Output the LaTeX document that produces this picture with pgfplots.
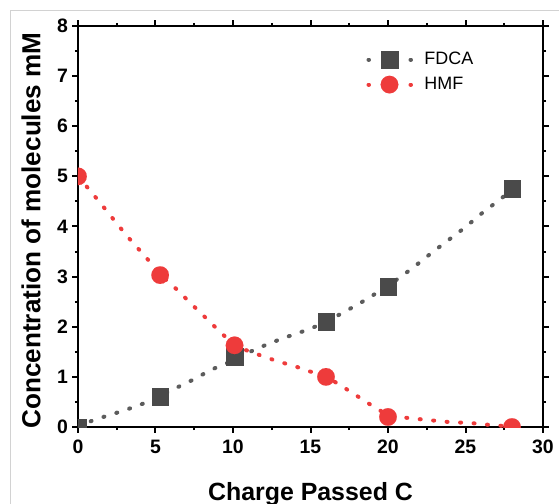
\documentclass[border=0pt]{standalone}
\usepackage{fontspec}
\setmainfont{Liberation Sans}
\setsansfont{Liberation Sans}
\usepackage{pgfplots}
\pgfplotsset{compat=1.18}
\definecolor{fdca}{HTML}{4A4A4A}
\definecolor{hmf}{HTML}{EE3B3B}
\pgfplotsset{
  fdcaleg/.style={legend image code/.code={
    \draw[fdca!90, line width=4bp, line cap=round, dash pattern=on 0.5bp off 41.5bp] (0bp,0bp) -- (43bp,0bp);
    \draw[##1] plot coordinates {(21bp,0bp)};}},
  hmfleg/.style={legend image code/.code={
    \draw[hmf, line width=4bp, line cap=round, dash pattern=on 0.5bp off 41.5bp] (0bp,0bp) -- (43bp,0bp);
    \draw[##1] plot coordinates {(21bp,0bp)};}},
}
\begin{document}
\begin{tikzpicture}
\path[use as bounding box] (-78bp,-77bp) rectangle (481bp,427bp);
\draw[gray!35, line width=0.8bp] (-67.5bp,-77bp) -- (-67.5bp,416.5bp) -- (481bp,416.5bp);
\begin{axis}[
  at={(0,0)}, anchor=south west,
  width=465bp, height=401bp, scale only axis,
  xmin=0, xmax=30, ymin=0, ymax=8,
  xtick={0,5,...,30}, ytick={0,1,...,8},
  minor x tick num=1, minor y tick num=1,
  tick align=outside,
  major tick length=5.5bp, minor tick length=3bp,
  every tick/.style={black, line width=2bp},
  axis line style={line width=2.6bp},
  clip=true, clip marker paths=true,
  ticklabel style={font=\fontsize{19.5}{22}\selectfont\bfseries},
  yticklabel style={xshift=-1bp},
  xticklabel style={yshift=-4bp},
  /pgf/number format/assume math mode=true,
  xlabel={Charge Passed C},
  ylabel={Concentration of molecules mM},
  label style={font=\bfseries},
  xlabel style={font=\fontsize{25}{29}\selectfont\bfseries, at={(0.5,0)}, anchor=base, yshift=-73bp},
  ylabel style={font=\fontsize{26.2}{30}\selectfont\bfseries, at={(0,0.5)}, anchor=center, yshift=47bp, xshift=-4bp},
  legend style={at={(0.62,0.943)}, anchor=north west, draw=none, fill=none,
    font=\fontsize{18}{21}\selectfont, inner sep=0pt,
    nodes={inner sep=2bp, text height=13bp, text depth=4bp},
    row sep=4bp,
    /tikz/every odd column/.append style={column sep=9bp}},
  legend cell align=left,
]
\addplot[fdca!90, line width=4bp, line cap=round, dash pattern=on 1bp off 12.5bp, smooth, forget plot] coordinates {
(0,0.02)(1.23,0.16)(2.46,0.28)(3.8,0.42)(5,0.57)(6.2,0.76)(7.4,0.94)(8.6,1.14)(10,1.33)(11.1,1.5)(12.3,1.66)(13.5,1.8)(14.8,1.94)(16,2.1)(17.2,2.3)(18.35,2.5)(19.5,2.72)(20.7,2.97)(21.7,3.2)(22.8,3.47)(23.9,3.73)(25,3.99)(26,4.25)(27.1,4.51)(28,4.73)};
\addplot[fdca, only marks, mark=square*, mark size=8.4bp, mark options={fill=fdca, draw=fdca, line width=0.1bp}, fdcaleg] coordinates {
(0,0)(5.3,0.6)(10.1,1.4)(16,2.1)(20,2.8)(28,4.75)};
\addlegendentry{FDCA}
\addplot[hmf, line width=4bp, line cap=round, dash pattern=on 1bp off 12.5bp, smooth, forget plot] coordinates {
(0,5)(0.85,4.69)(1.75,4.35)(2.66,4.0)(3.5,3.69)(4.4,3.38)(5.3,3.05)(6.35,2.75)(7.3,2.46)(8.3,2.16)(9.3,1.86)(10.2,1.62)(11.5,1.46)(12.8,1.32)(14.1,1.2)(15.4,1.06)(16.4,0.93)(17.8,0.66)(18.9,0.44)(20,0.25)(21.3,0.18)(22.6,0.14)(23.9,0.1)(25.3,0.08)(26.6,0.04)(28,0.01)};
\addplot[hmf, only marks, mark=*, mark size=8.8bp, mark options={fill=hmf, draw=hmf, line width=0.1bp}, hmfleg] coordinates {
(0,5)(5.3,3.03)(10.1,1.63)(16,1.0)(20,0.2)(28,0.0)};
\addlegendentry{HMF}
\end{axis}
\end{tikzpicture}
\end{document}
